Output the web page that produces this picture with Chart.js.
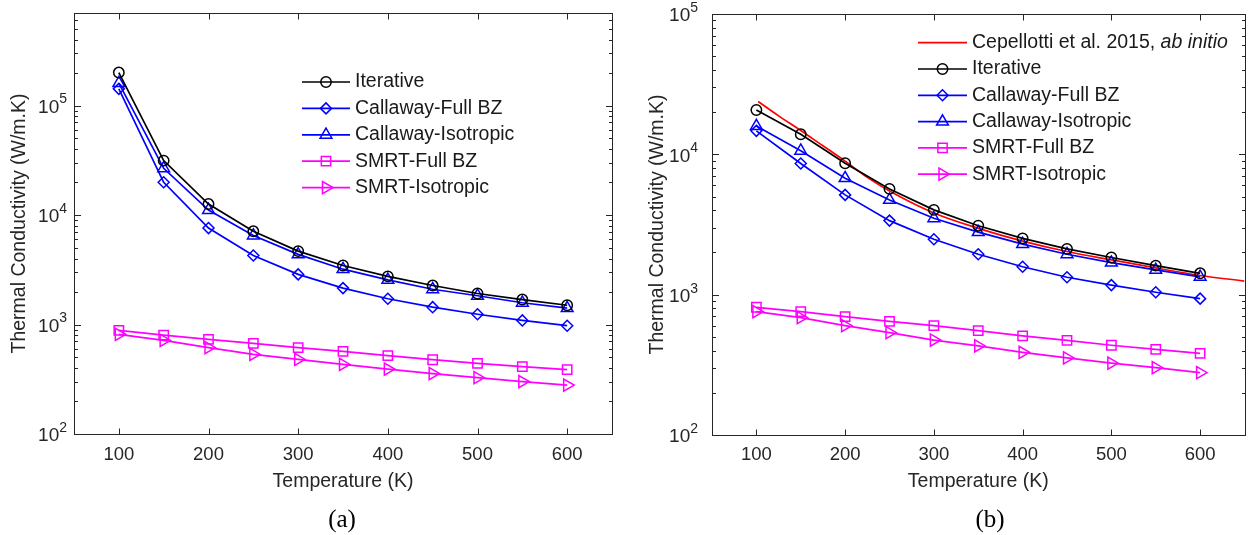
<!DOCTYPE html>
<html lang="en">
<head>
<meta charset="UTF-8" />
<title>Thermal conductivity vs temperature</title>
<script src="https://cdn.jsdelivr.net/npm/chart.js@4.4.0/dist/chart.umd.min.js"></script>
<style>
  body { margin: 0; background: #fff; }
  #wrap { position: relative; width: 1253px; height: 535px; }
  canvas { position: absolute; top: 0; }
</style>
</head>
<body>
<div id="wrap">
  <canvas id="chartA" width="626" height="535" style="left:0"></canvas>
  <canvas id="chartB" width="627" height="535" style="left:626px"></canvas>
</div>
<script>
// temperatures (K)
const temps = [100, 150, 200, 250, 300, 350, 400, 450, 500, 550, 600];

// panel (a)
const iterA     = [200000, 31400, 12600, 7100, 4680, 3460, 2750, 2270, 1920, 1690, 1500];
const callFullA = [142000, 19900, 7600, 4270, 2870, 2150, 1720, 1440, 1240, 1090, 975];
const callIsoA  = [160000, 26700, 11100, 6500, 4370, 3200, 2560, 2100, 1830, 1580, 1410];
const smrtFullA = [883, 800, 731, 672, 614, 568, 519, 477, 442, 412, 387];
const smrtIsoA  = [813, 716, 614, 533, 480, 432, 392, 356, 327, 301, 280];

// panel (b)
const iterB     = [20700, 13900, 8640, 5670, 4020, 3100, 2520, 2120, 1840, 1610, 1420];
const callFullB = [14700, 8600, 5140, 3370, 2480, 1940, 1580, 1330, 1170, 1040, 937];
const callIsoB  = [15900, 10600, 6760, 4730, 3500, 2790, 2290, 1940, 1690, 1500, 1340];
const smrtFullB = [813, 757, 697, 646, 601, 554, 508, 473, 436, 408, 382];
const smrtIsoB  = [757, 686, 601, 536, 475, 431, 388, 354, 325, 302, 278];

// Cepellotti et al. 2015 ab initio curve
const refT = [102, 125, 150, 175, 200, 225, 250, 300, 350, 400, 450, 500, 550, 600, 650];
const refK = [23800, 18800, 14800, 11500, 8950, 6850, 5480, 3820, 2970, 2410, 2030, 1770, 1550, 1370, 1250];

// axis ticks
const xTicks = [100, 200, 300, 400, 500, 600];
const yExpA = [2, 3, 4, 5];
const yExpB = [2, 3, 4, 5];

const AXIS = '#262626';
const SANS = '"Liberation Sans", Arial, sans-serif';

function markerPath(ctx, style, r, rot, x, y) {
  if (Chart.helpers && Chart.helpers.drawPoint) {
    Chart.helpers.drawPoint(ctx, { pointStyle: style, radius: r, rotation: rot, borderWidth: 1.5 }, x, y);
    return;
  }
  ctx.beginPath();
  ctx.arc(x, y, r, 0, Math.PI * 2);
  ctx.stroke();
}

// MATLAB-like box: inward ticks, superscript log labels, titles, legend
const axesDecor = {
  id: 'axesDecor',
  afterDraw(chart, args, o) {
    const ctx = chart.ctx, a = chart.chartArea;
    const xs = chart.scales.x, ys = chart.scales.y;
    const L = Math.round(a.left) + 0.5, R = Math.round(a.right) + 0.5;
    const T = Math.round(a.top) + 0.5, B = Math.round(a.bottom) + 0.5;
    ctx.save();
    ctx.strokeStyle = AXIS;
    ctx.lineWidth = 1;
    ctx.strokeRect(L, T, R - L, B - T);

    ctx.beginPath();
    xTicks.forEach(v => {
      const px = Math.round(xs.getPixelForValue(v)) + 0.5;
      ctx.moveTo(px, B); ctx.lineTo(px, B - 6);
      ctx.moveTo(px, T); ctx.lineTo(px, T + 6);
    });
    const lo = Math.floor(Math.log10(ys.min)), hi = Math.ceil(Math.log10(ys.max));
    for (let e = lo; e <= hi; e++) {
      for (let m = 1; m <= 9; m++) {
        const v = m * Math.pow(10, e);
        if (v < ys.min * 0.999 || v > ys.max * 1.001) continue;
        const py = Math.round(ys.getPixelForValue(v)) + 0.5;
        const len = m === 1 ? 6.5 : 3.5;
        ctx.moveTo(L, py); ctx.lineTo(L + len, py);
        ctx.moveTo(R, py); ctx.lineTo(R - len, py);
      }
    }
    ctx.stroke();

    ctx.fillStyle = AXIS;
    ctx.textBaseline = 'middle';
    ctx.textAlign = 'center';
    ctx.font = '18.5px ' + SANS;
    xTicks.forEach(v => ctx.fillText(String(v), xs.getPixelForValue(v), 455));

    // y labels as 10 with a raised exponent
    ctx.textAlign = 'left';
    o.yExp.forEach(e => {
      const py = ys.getPixelForValue(Math.pow(10, e));
      ctx.font = '19px ' + SANS;
      const wb = ctx.measureText('10').width;
      ctx.font = '14px ' + SANS;
      const ws = ctx.measureText(String(e)).width;
      const x0 = a.left - o.yGap - wb - ws;
      ctx.font = '19px ' + SANS;
      ctx.fillText('10', x0, py + 2);
      ctx.font = '14px ' + SANS;
      ctx.fillText(String(e), x0 + wb, py - 6);
    });

    ctx.textAlign = 'center';
    ctx.font = '19.5px ' + SANS;
    ctx.fillText('Temperature (K)', (a.left + a.right) / 2, 482);
    ctx.save();
    ctx.translate(o.yTitleX, (a.top + a.bottom) / 2);
    ctx.rotate(-Math.PI / 2);
    ctx.fillText('Thermal Conductivity (W/m.K)', 0, 0);
    ctx.restore();

    ctx.font = '25px "Liberation Serif", "Times New Roman", serif';
    ctx.fillStyle = '#000';
    ctx.fillText(o.caption, o.captionX, 520);

    // legend
    const lg = o.legend;
    ctx.textAlign = 'left';
    chart.data.datasets.forEach((ds, i) => {
      const y = lg.y0 + i * lg.dy;
      ctx.strokeStyle = ds.borderColor;
      ctx.lineWidth = 1.7;
      ctx.beginPath();
      ctx.moveTo(lg.x0, y); ctx.lineTo(lg.x1, y);
      ctx.stroke();
      if (ds.pointRadius > 0) {
        ctx.fillStyle = 'rgba(0,0,0,0)';
        ctx.lineWidth = 1.5;
        markerPath(ctx, ds.pointStyle, ds.pointRadius, ds.pointRotation, (lg.x0 + lg.x1) / 2, y);
      }
      ctx.fillStyle = '#1a1a1a';
      ctx.font = '19.5px ' + SANS;
      if (ds.italicTail) {
        const head = ds.label.slice(0, ds.label.length - ds.italicTail.length);
        ctx.fillText(head, lg.tx, y);
        const w = ctx.measureText(head).width;
        ctx.font = 'italic 19.5px ' + SANS;
        ctx.fillText(ds.italicTail, lg.tx + w, y);
      } else {
        ctx.fillText(ds.label, lg.tx, y);
      }
    });
    ctx.restore();
  }
};

function series(label, xv, yv, color, marker, size, rot, extra) {
  return Object.assign({
    label: label,
    data: xv.map((t, i) => ({ x: t, y: yv[i] })),
    borderColor: color,
    backgroundColor: 'rgba(0,0,0,0)',
    borderWidth: 1.7,
    pointStyle: marker || 'circle',
    pointRadius: marker ? size : 0,
    pointRotation: rot || 0,
    pointBorderColor: color,
    pointBackgroundColor: 'rgba(0,0,0,0)',
    pointBorderWidth: 1.5,
    tension: 0
  }, extra || {});
}

function buildChart(id, datasets, yMax, deco) {
  return new Chart(document.getElementById(id), {
    type: 'line',
    data: { datasets: datasets },
    options: {
      responsive: false,
      animation: false,
      events: [],
      layout: { padding: deco.pad },
      plugins: { legend: { display: false }, tooltip: { enabled: false }, axesDecor: deco },
      scales: {
        x: { type: 'linear', min: 50, max: 650, display: false },
        y: { type: 'logarithmic', min: 100, max: yMax, display: false }
      }
    },
    plugins: [axesDecor]
  });
}

buildChart('chartA', [
  series('Iterative', temps, iterA, '#000000', 'circle', 5.2),
  series('Callaway-Full BZ', temps, callFullA, '#0000ff', 'rectRot', 5.5),
  series('Callaway-Isotropic', temps, callIsoA, '#0000ff', 'triangle', 6.8),
  series('SMRT-Full BZ', temps, smrtFullA, '#ff00ff', 'rect', 6.6),
  series('SMRT-Isotropic', temps, smrtIsoA, '#ff00ff', 'triangle', 7, 90)
], 7e5, {
  pad: { left: 74, top: 13, right: 14, bottom: 101 },
  yExp: yExpA, yGap: 7, yTitleX: 20,
  caption: '(a)', captionX: 342,
  legend: { x0: 302, x1: 350, tx: 355, y0: 82, dy: 26.4 }
});

buildChart('chartB', [
  series('Cepellotti et al. 2015, ab initio', refT, refK, '#ff0000', null, 0, 0,
    { italicTail: 'ab initio', tension: 0.4, cubicInterpolationMode: 'monotone', order: 10 }),
  series('Iterative', temps, iterB, '#000000', 'circle', 5.2),
  series('Callaway-Full BZ', temps, callFullB, '#0000ff', 'rectRot', 5.5),
  series('Callaway-Isotropic', temps, callIsoB, '#0000ff', 'triangle', 6.8),
  series('SMRT-Full BZ', temps, smrtFullB, '#ff00ff', 'rect', 6.6),
  series('SMRT-Isotropic', temps, smrtIsoB, '#ff00ff', 'triangle', 7, 90)
], 1e5, {
  pad: { left: 86, top: 14, right: 2, bottom: 100 },
  yExp: yExpB, yGap: 14, yTitleX: 32,
  caption: '(b)', captionX: 364,
  legend: { x0: 292, x1: 341, tx: 346, y0: 42.7, dy: 26.3 }
});
</script>
</body>
</html>
